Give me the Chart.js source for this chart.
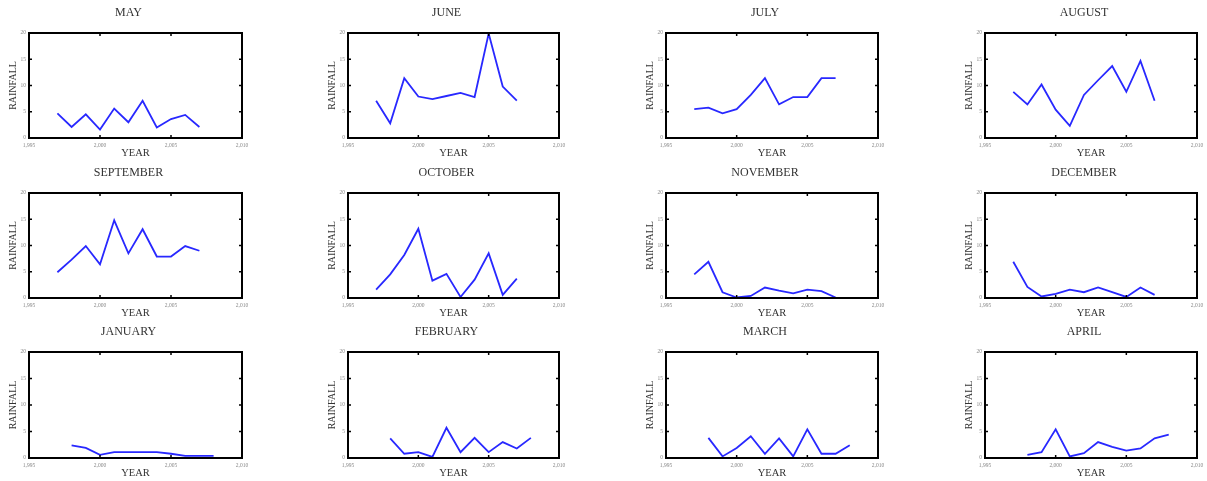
<!DOCTYPE html>
<html>
<head>
<meta charset="utf-8">
<script src="https://cdn.jsdelivr.net/npm/chart.js@4.4.0/dist/chart.umd.min.js"></script>
<style>
  body { margin: 0; background: #fff; overflow: hidden; }
  #wrap { position: relative; width: 1207px; height: 481px; }
  canvas { position: absolute; }
</style>
</head>
<body>
<div id="wrap"></div>
<script>
// monthly rainfall, one small chart per month
let monthNames = ['MAY', 'JUNE', 'JULY', 'AUGUST', 'SEPTEMBER', 'OCTOBER', 'NOVEMBER', 'DECEMBER', 'JANUARY', 'FEBRUARY', 'MARCH', 'APRIL'];
let yearsMayDec = [1997, 1998, 1999, 2000, 2001, 2002, 2003, 2004, 2005, 2006, 2007];
let yearsJanApr = [1998, 1999, 2000, 2001, 2002, 2003, 2004, 2005, 2006, 2007, 2008];

let may       = [4.7, 2.1, 4.5, 1.6, 5.6, 3.0, 7.1, 2.0, 3.6, 4.4, 2.1];
let june      = [7.1, 2.8, 11.4, 7.9, 7.4, 8.0, 8.6, 7.8, 19.9, 9.8, 7.1];
let july      = [5.5, 5.8, 4.7, 5.5, 8.2, 11.4, 6.4, 7.8, 7.8, 11.4, 11.4];
let august    = [8.8, 6.4, 10.2, 5.4, 2.3, 8.2, 11.0, 13.7, 8.8, 14.7, 7.1];
let september = [4.9, 7.3, 9.9, 6.4, 14.8, 8.5, 13.1, 7.9, 7.9, 9.9, 9.0];
let october   = [1.6, 4.5, 8.2, 13.2, 3.3, 4.6, 0.2, 3.5, 8.5, 0.6, 3.7];
let november  = [4.5, 6.9, 1.1, 0.1, 0.4, 2.0, 1.4, 0.9, 1.6, 1.3, 0.1];
let december  = [6.9, 2.1, 0.3, 0.8, 1.6, 1.1, 2.0, 1.1, 0.2, 2.0, 0.6];
let january   = [2.4, 1.9, 0.6, 1.1, 1.1, 1.1, 1.1, 0.8, 0.4, 0.4, 0.4];
let february  = [3.7, 0.8, 1.1, 0.2, 5.7, 1.1, 3.8, 1.1, 3.0, 1.8, 3.8];
let march     = [3.8, 0.3, 1.9, 4.1, 0.8, 3.7, 0.3, 5.4, 0.8, 0.8, 2.4];
let april     = [0.6, 1.1, 5.4, 0.3, 0.9, 3.0, 2.1, 1.4, 1.8, 3.7, 4.4];

let monthValues = [may, june, july, august, september, october, november, december, january, february, march, april];
let monthYears  = [yearsMayDec, yearsMayDec, yearsMayDec, yearsMayDec, yearsMayDec, yearsMayDec, yearsMayDec, yearsMayDec,
                   yearsJanApr, yearsJanApr, yearsJanApr, yearsJanApr];

let xMin = 1995, xMax = 2010, xStep = 5;
let yMin = 0, yMax = 20, yStep = 5;

// plot box positions on the page
let colLeft  = [29, 348, 666, 985];
let colWidth = [213, 211, 212, 212];
let rowTop    = [33, 193, 352];
let rowHeight = [105, 105, 106];

let FONT = "'Liberation Serif', 'Times New Roman', serif";
let TEXT = '#333';

// black frame with inward ticks on all four sides
let framePlugin = {
    id: 'frame',
    afterDatasetsDraw(chart) {
        let ctx = chart.ctx;
        let a = chart.chartArea;
        let x = chart.scales.x;
        let y = chart.scales.y;
        ctx.save();
        ctx.strokeStyle = '#000';
        ctx.lineWidth = 2;
        ctx.strokeRect(a.left, a.top, a.right - a.left, a.bottom - a.top);
        ctx.lineWidth = 1.5;
        ctx.beginPath();
        x.ticks.forEach(t => {
            let px = x.getPixelForValue(t.value);
            ctx.moveTo(px, a.top); ctx.lineTo(px, a.top + 3);
            ctx.moveTo(px, a.bottom); ctx.lineTo(px, a.bottom - 3);
        });
        y.ticks.forEach(t => {
            let py = y.getPixelForValue(t.value);
            ctx.moveTo(a.left, py); ctx.lineTo(a.left + 3, py);
            ctx.moveTo(a.right, py); ctx.lineTo(a.right - 3, py);
        });
        ctx.stroke();
        ctx.restore();
    }
};

let wrap = document.getElementById('wrap');

monthNames.forEach((name, i) => {
    let col = i % 4;
    let row = Math.floor(i / 4);
    let w = colWidth[col] + 29 + 16;
    let h = rowHeight[row] + 33 + 24;

    let canvas = document.createElement('canvas');
    canvas.width = w;
    canvas.height = h;
    canvas.style.left = (colLeft[col] - 29) + 'px';
    canvas.style.top = (rowTop[row] - 33) + 'px';
    wrap.appendChild(canvas);

    let years = monthYears[i];
    let points = years.map((yr, k) => ({ x: yr, y: monthValues[i][k] }));

    new Chart(canvas.getContext('2d'), {
        type: 'line',
        data: {
            datasets: [{
                data: points,
                borderColor: 'rgb(40, 40, 255)',
                borderWidth: 1.8,
                pointRadius: 0,
                tension: 0,
                fill: false
            }]
        },
        options: {
            responsive: false,
            animation: false,
            devicePixelRatio: 1,
            layout: { padding: { left: 0, right: 1, top: 0, bottom: 0 } },
            plugins: {
                legend: { display: false },
                tooltip: { enabled: false },
                title: {
                    display: true,
                    text: name,
                    color: TEXT,
                    font: { family: FONT, size: 12, weight: 'normal' },
                    padding: { top: 5.5, bottom: 13.1 }
                }
            },
            scales: {
                x: {
                    type: 'linear',
                    min: xMin,
                    max: xMax,
                    grid: { display: false, drawTicks: false },
                    border: { display: false },
                    ticks: {
                        stepSize: xStep,
                        autoSkip: false,
                        maxRotation: 0,
                        padding: 4,
                        color: '#888',
                        font: { family: FONT, size: 5.5 }
                    },
                    title: {
                        display: true,
                        text: 'YEAR',
                        color: TEXT,
                        font: { family: FONT, size: 10.5 },
                        padding: { top: 0, bottom: 2 }
                    },
                    afterFit: s => { s.height = 24; }
                },
                y: {
                    min: yMin,
                    max: yMax,
                    grid: { display: false, drawTicks: false },
                    border: { display: false },
                    ticks: {
                        stepSize: yStep,
                        padding: 3,
                        color: '#888',
                        font: { family: FONT, size: 5.5 }
                    },
                    title: {
                        display: true,
                        text: 'RAINFALL',
                        color: TEXT,
                        font: { family: FONT, size: 10 },
                        padding: { top: 7, bottom: 0 }
                    },
                    afterFit: s => { s.width = 29; }
                },
                // empty right-hand spacer so the title sits a little left of the box centre
                yRight: {
                    position: 'right',
                    min: yMin,
                    max: yMax,
                    grid: { display: false, drawTicks: false },
                    border: { display: false },
                    ticks: { display: false },
                    afterFit: s => { s.width = 15; }
                }
            }
        },
        plugins: [framePlugin]
    });
});
</script>
</body>
</html>
